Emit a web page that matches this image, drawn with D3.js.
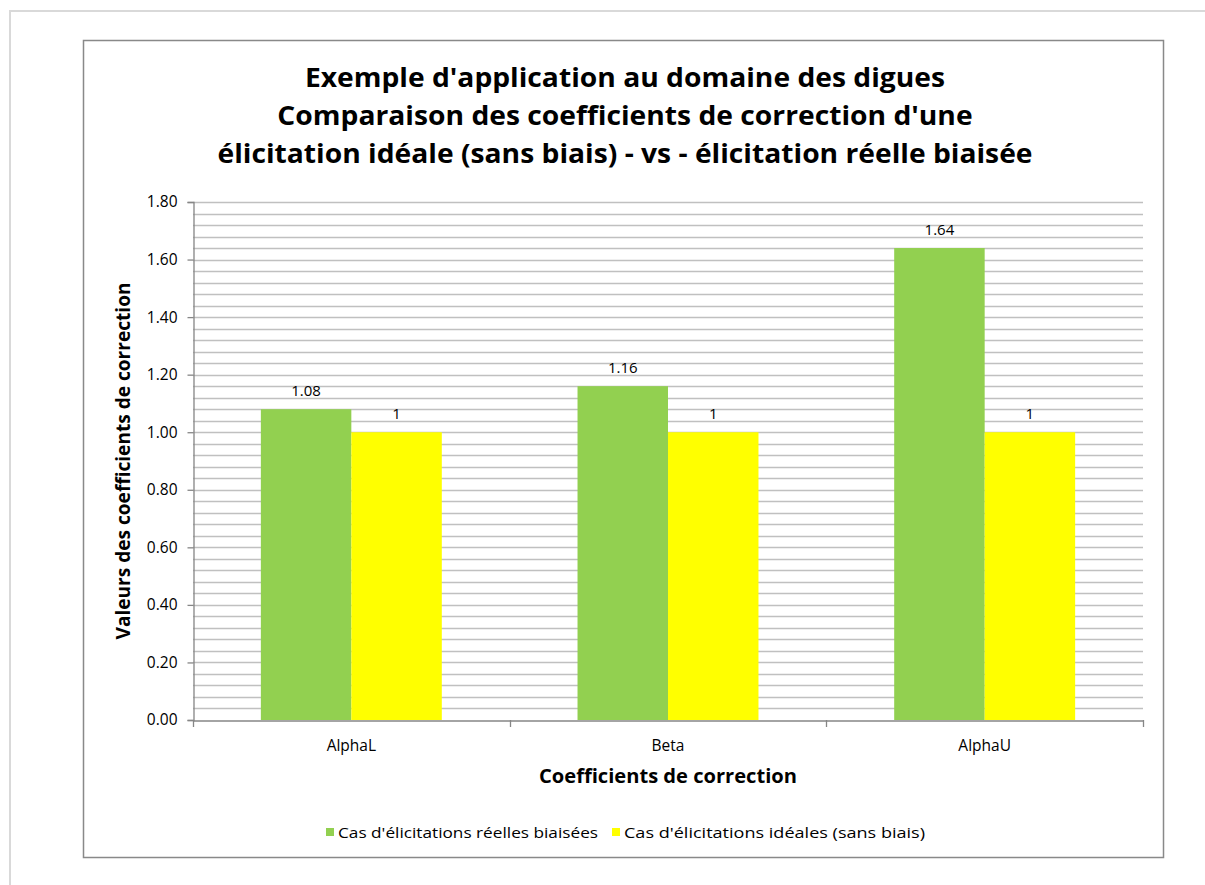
<!DOCTYPE html>
<html><head><meta charset="utf-8">
<script src="https://cdn.jsdelivr.net/npm/d3@7"></script>
<style>body{margin:0;background:#fff}svg{display:block}</style>
</head><body>
<script>
const categories = ["AlphaL", "Beta", "AlphaU"];
const seriesNames = ["Cas d'élicitations réelles biaisées", "Cas d'élicitations idéales (sans biais)"];
const biaisees = [1.08, 1.16, 1.64];
const ideales = [1, 1, 1];
const labelsBiaisees = ["1.08", "1.16", "1.64"];
const labelsIdeales = ["1", "1", "1"];
const yTicks = [0, 0.2, 0.4, 0.6, 0.8, 1.0, 1.2, 1.4, 1.6, 1.8];
const titleLines = ["Exemple d'application au domaine des digues",
  "Comparaison des coefficients de correction d'une",
  "élicitation idéale (sans biais) - vs - élicitation réelle biaisée"];
const colors = ["#92d050", "#ffff00"];

const W = 1205, H = 885;
const svg = d3.select("body").append("svg").attr("width", W).attr("height", H);
const font = "'Open Sans', 'Liberation Sans', sans-serif";

// outer frame
svg.append("rect").attr("x", 10).attr("y", 11).attr("width", 1300).attr("height", 1000)
  .attr("fill", "none").attr("stroke", "#d9d9d9").attr("stroke-width", 2);
// chart frame
svg.append("rect").attr("x", 83.5).attr("y", 40.5).attr("width", 1080).attr("height", 817)
  .attr("fill", "#fff").attr("stroke", "#898989").attr("stroke-width", 1.5);

const L = 193, R = 1143, T = 202, B = 720;
const x0 = d3.scaleBand().domain(categories).range([L, R]).paddingInner(0).paddingOuter(0);
const y = d3.scaleLinear().domain([0, 1.8]).range([B, T]);
const groupW = x0.bandwidth();
const barW = groupW / 3.5;

// minor gridlines every 0.04
const minor = d3.range(0, 46).map(i => +(i * 0.04).toFixed(2)).filter(v => v > 0);
svg.append("g").selectAll("line").data(minor).join("line")
  .attr("x1", L).attr("x2", R)
  .attr("y1", d => Math.round(y(d)) + 0.5).attr("y2", d => Math.round(y(d)) + 0.5)
  .attr("stroke", "#c0c0c0").attr("stroke-width", 1.3);

// bars
const series = [biaisees, ideales];
const labels = [labelsBiaisees, labelsIdeales];
series.forEach((vals, s) => {
  const g = svg.append("g");
  g.selectAll("rect").data(vals).join("rect")
    .attr("x", (d, i) => x0(categories[i]) + groupW / 2 - barW + s * barW)
    .attr("width", barW)
    .attr("y", d => y(d))
    .attr("height", d => B - y(d))
    .attr("fill", colors[s]);
  g.selectAll("text").data(vals).join("text")
    .attr("x", (d, i) => x0(categories[i]) + groupW / 2 - barW / 2 + s * barW)
    .attr("y", d => y(d) - 13)
    .attr("text-anchor", "middle")
    .attr("font-family", font).attr("font-size", 15).attr("fill", "#000")
    .text((d, i) => labels[s][i]);
});

// y axis
const yAxis = svg.append("g").attr("transform", `translate(${L + 0.5},0)`)
  .call(d3.axisLeft(y).tickValues(yTicks).tickFormat(d3.format(".2f")).tickSize(6).tickPadding(10));
yAxis.select(".domain").attr("stroke", "#868686").attr("stroke-width", 1.3);
yAxis.selectAll(".tick line").attr("stroke", "#868686").attr("stroke-width", 1.3);
yAxis.selectAll("text").attr("font-family", font).attr("font-size", 15.5).attr("fill", "#000");

// x axis
const xAxis = svg.append("g").attr("transform", `translate(0,${B + 0.5})`)
  .call(d3.axisBottom(x0).tickSize(0).tickPadding(19));
xAxis.select(".domain").attr("stroke", "#868686").attr("stroke-width", 1.3);
xAxis.selectAll("text").attr("font-family", font).attr("font-size", 15.5).attr("fill", "#000");
const bounds = categories.map(c => x0(c)).concat([R]);
svg.append("g").selectAll("line").data(bounds).join("line")
  .attr("x1", d => Math.round(d) + 0.5).attr("x2", d => Math.round(d) + 0.5)
  .attr("y1", B).attr("y2", B + 7).attr("stroke", "#868686").attr("stroke-width", 1.3);

// title: all lines share one centre; compressed uniformly so the longest line is 815px
const titleY = [87, 125, 163];
const tt = svg.append("g").selectAll("text").data(titleLines).join("text")
  .attr("x", 625).attr("y", (d, i) => titleY[i])
  .attr("text-anchor", "middle")
  .attr("font-family", font).attr("font-weight", "bold").attr("font-size", 27.5)
  .attr("fill", "#000").text(d => d);
const nat = tt.nodes().map(n => n.getComputedTextLength());
const k = 815 / nat[2];
tt.attr("textLength", (d, i) => nat[i] * k).attr("lengthAdjust", "spacingAndGlyphs");

// axis titles
svg.append("text").attr("x", 668).attr("y", 783).attr("text-anchor", "middle")
  .attr("font-family", font).attr("font-weight", "bold").attr("font-size", 19)
  .attr("textLength", 258).attr("lengthAdjust", "spacingAndGlyphs")
  .text("Coefficients de correction");
svg.append("text").attr("transform", `translate(130,${(T + B) / 2}) rotate(-90)`)
  .attr("text-anchor", "middle")
  .attr("font-family", font).attr("font-weight", "bold").attr("font-size", 19)
  .attr("textLength", 357).attr("lengthAdjust", "spacingAndGlyphs")
  .text("Valeurs des coefficients de correction");

// legend
const legX = [326, 612];
const legLen = [260, 301];
const leg = svg.append("g");
seriesNames.forEach((n, i) => {
  leg.append("rect").attr("x", legX[i]).attr("y", 828).attr("width", 8).attr("height", 8).attr("fill", colors[i]);
  leg.append("text").attr("x", legX[i] + 12).attr("y", 838)
    .attr("font-family", font).attr("font-size", 15)
    .attr("textLength", legLen[i]).attr("lengthAdjust", "spacingAndGlyphs")
    .text(n);
});
</script>
</body></html>
